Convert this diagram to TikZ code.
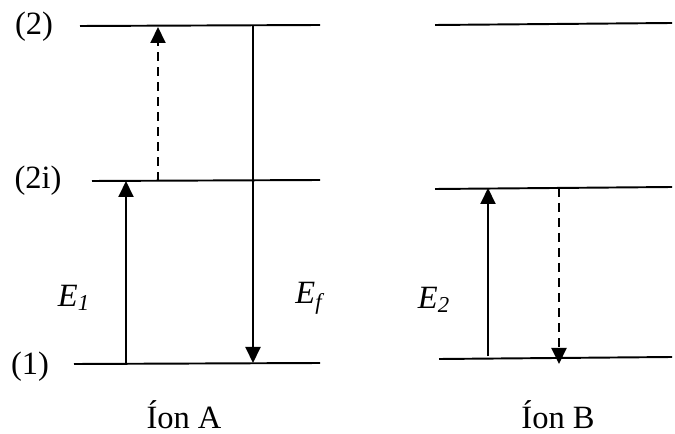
\documentclass[tikz,border=0pt]{standalone}
\usepackage{fontspec}
\setmainfont{Liberation Serif}
\usetikzlibrary{arrows.meta}
\tikzset{
  level/.style={line width=1.1pt},
  arrow/.style={-{Triangle[length=3.2mm,width=3mm]},line width=1.1pt},
  dasharrow/.style={arrow,dash pattern=on 1.8mm off 1.2mm},
  lbl/.style={font=\fontsize{18.5}{22}\selectfont,inner sep=0pt},
  en/.style={lbl,font=\fontsize{18.5}{22}\selectfont\itshape},
}

\begin{document}
\begin{tikzpicture}[x=0.2mm,y=-0.2mm]
\useasboundingbox (0,0) rectangle (675,434);
% ion A
\coordinate (a2w) at (80,26);  \coordinate (a2e) at (320,25);
\coordinate (aiw) at (92,181); \coordinate (aie) at (320,180);
\coordinate (a1w) at (74,364); \coordinate (a1e) at (320,363);
\draw[level] (a2w) -- (a2e);
\draw[level] (aiw) -- (aie);
\draw[level] (a1w) -- (a1e);
\node[lbl] (l2) at (34,27) {(2)};
\node[lbl] (l2i) at (38,181) {(2i)};
\node[lbl] (l1) at (30,367) {(1)};
\coordinate (e1s) at (126,364); \coordinate (e1t) at (126,181);
\coordinate (exs) at (158,181); \coordinate (ext) at (158,27);
\coordinate (efs) at (253,25);  \coordinate (eft) at (253,363);
\draw[arrow] (e1s) -- (e1t);
\draw[dasharrow] (exs) -- (ext);
\draw[arrow] (efs) -- (eft);
\node[en] (e1) at (74,298) {E\textsubscript{1}};
\node[en] (ef) at (309,298) {E\textsubscript{f}};
\node[lbl,anchor=base] (iona) at (184,428) {Íon A};
% ion B
\coordinate (b2w) at (435,25);  \coordinate (b2e) at (672,23);
\coordinate (biw) at (435,189); \coordinate (bie) at (672,187);
\coordinate (b1w) at (439,359); \coordinate (b1e) at (672,357);
\draw[level] (b2w) -- (b2e);
\draw[level] (biw) -- (bie);
\draw[level] (b1w) -- (b1e);
\coordinate (e2s) at (488,356); \coordinate (e2t) at (488,188);
\coordinate (eys) at (559,188); \coordinate (eyt) at (559,364);
\draw[arrow] (e2s) -- (e2t);
\draw[dasharrow] (eys) -- (eyt);
\node[en] (e2) at (434,300) {E\textsubscript{2}};
\node[lbl,anchor=base] (ionb) at (558,428) {Íon B};
\end{tikzpicture}
\end{document}
